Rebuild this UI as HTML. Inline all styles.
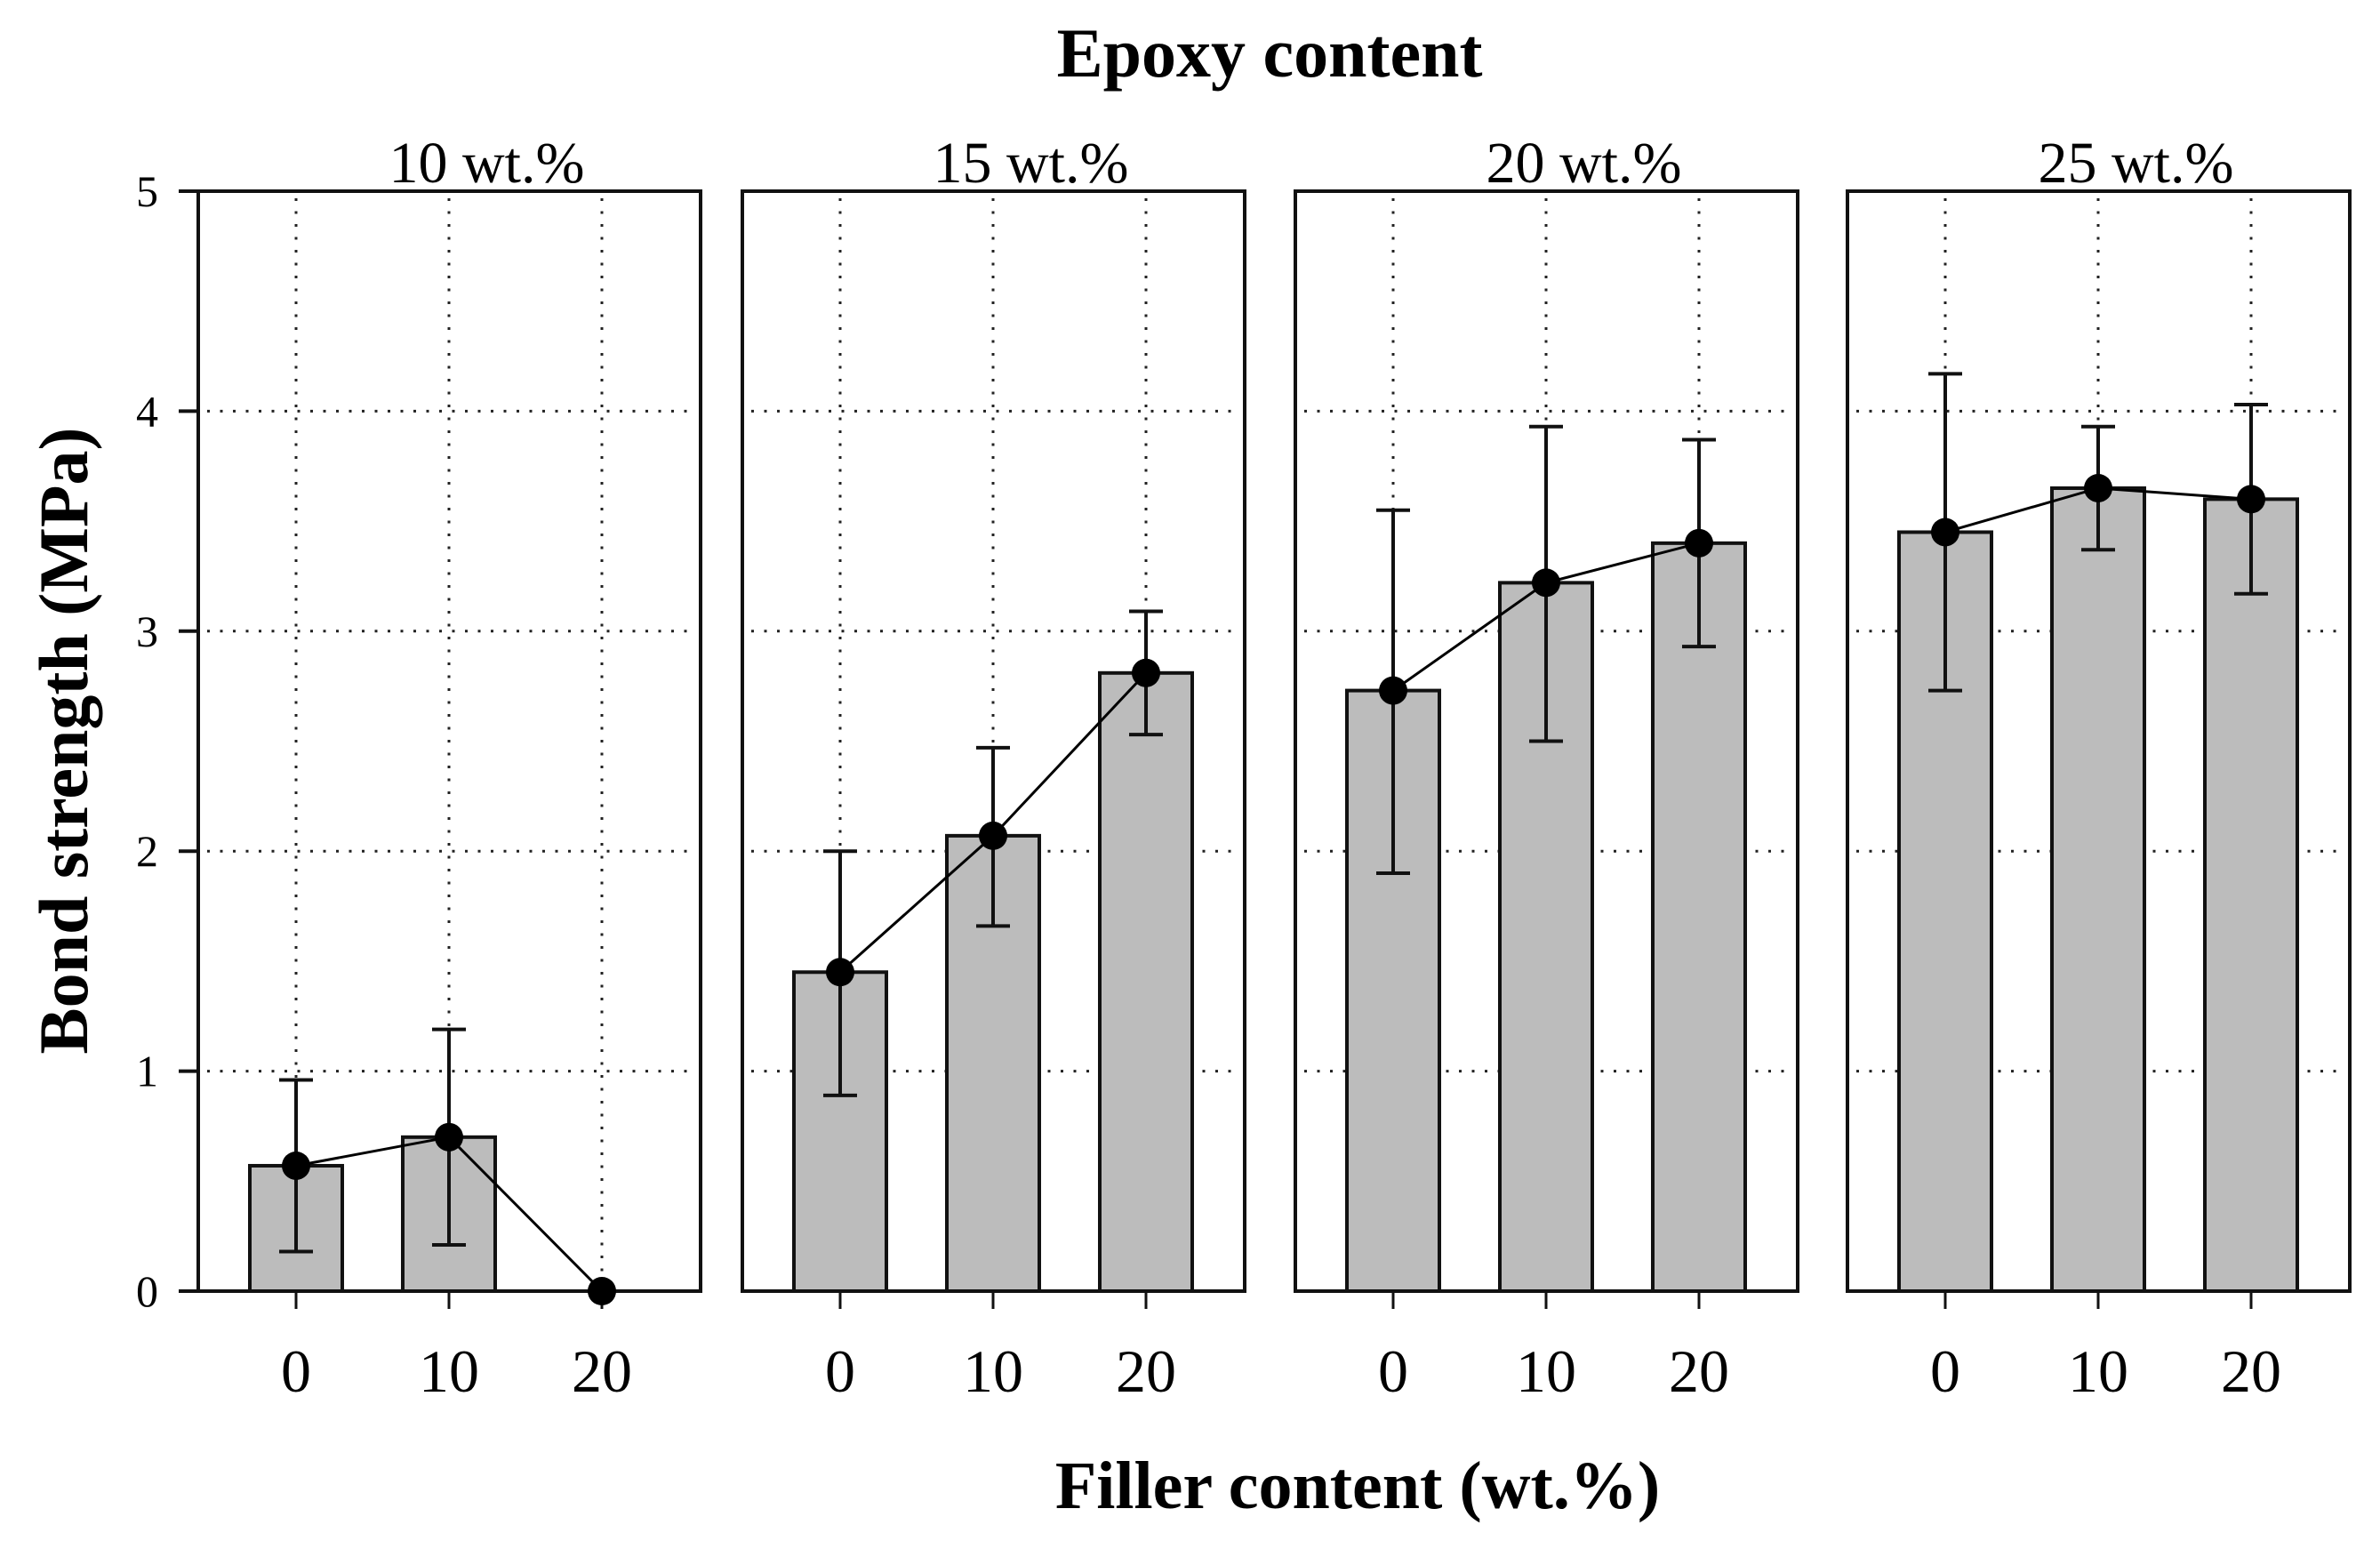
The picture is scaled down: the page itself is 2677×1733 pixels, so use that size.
<!DOCTYPE html>
<html><head><meta charset="utf-8">
<style>
html,body{margin:0;padding:0;background:#fff;}
svg{display:block;font-family:"Liberation Serif",serif;}
</style></head>
<body>
<svg id="chart" width="2677" height="1733" viewBox="0 0 2677 1733" xmlns="http://www.w3.org/2000/svg">
<rect x="0" y="0" width="2677" height="1733" fill="#fff"/>
<text x="1428" y="86" font-size="78" font-weight="bold" text-anchor="middle">Epoxy content</text>
<text x="1527" y="1696" font-size="76" font-weight="bold" text-anchor="middle">Filler content (wt.%)</text>
<text transform="translate(98,833) rotate(-90)" font-size="78" font-weight="bold" text-anchor="middle">Bond strength (MPa)</text>
<g id="plots"></g>
</svg>
<script>
const panelTitles = ["10 wt.%", "15 wt.%", "20 wt.%", "25 wt.%"];
const categories = ["0", "10", "20"];
const yTicks = [0, 1, 2, 3, 4, 5];
const means10 = [0.57, 0.70, 0.0];
const lower10 = [0.18, 0.21, 0.0];
const upper10 = [0.96, 1.19, 0.0];
const means15 = [1.45, 2.07, 2.81];
const lower15 = [0.89, 1.66, 2.53];
const upper15 = [2.00, 2.47, 3.09];
const means20 = [2.73, 3.22, 3.40];
const lower20 = [1.90, 2.50, 2.93];
const upper20 = [3.55, 3.93, 3.87];
const means25 = [3.45, 3.65, 3.60];
const lower25 = [2.73, 3.37, 3.17];
const upper25 = [4.17, 3.93, 4.03];

const meansAll = [means10, means15, means20, means25];
const lowerAll = [lower10, lower15, lower20, lower25];
const upperAll = [upper10, upper15, upper20, upper25];

const NS = "http://www.w3.org/2000/svg";
const root = document.getElementById("plots");
const panelLeft = [223, 835, 1457, 2078];
const panelW = 565;
const yTop = 215, yBottom = 1452, yMax = 5;
function yScale(v){ return yBottom - (v / yMax) * (yBottom - yTop); }
function xScale(p, i){ return panelLeft[p] + 110 + i * 172; }
function mk(tag, attrs, parent){
  const el = document.createElementNS(NS, tag);
  for (const k in attrs) el.setAttribute(k, attrs[k]);
  (parent || root).appendChild(el);
  return el;
}

for (let p = 0; p < 4; p++) {
  const g = mk("g", {});
  
  
  const L = panelLeft[p], R = L + panelW;
  for (let t = 1; t < yTicks.length - 1; t++) {
    const gl = mk("line", {x1: L + 10, x2: R - 8, y1: yScale(yTicks[t]), y2: yScale(yTicks[t]), stroke: "#222", "stroke-width": 3, "stroke-dasharray": "3 11.5"}, g);
    
    
  }
  for (let i = 0; i < categories.length; i++) {
    const gl = mk("line", {x1: xScale(p, i), x2: xScale(p, i), y1: yTop + 8, y2: yBottom, stroke: "#222", "stroke-width": 3, "stroke-dasharray": "3 11.5"}, g);
    
    
  }
  for (let i = 0; i < categories.length; i++) {
    const v = meansAll[p][i];
    if (v > 0) {
      const b = mk("rect", {x: xScale(p, i) - 52, y: yScale(v), width: 104, height: yBottom - yScale(v), fill: "#bcbcbc", stroke: "#111", "stroke-width": 4}, g);
      
      
    }
  }
  const fr = mk("rect", {x: L, y: yTop, width: panelW, height: yBottom - yTop, fill: "none", stroke: "#111", "stroke-width": 4}, g);
  
  
  for (let i = 0; i < categories.length; i++) {
    const tk = mk("line", {x1: xScale(p, i), x2: xScale(p, i), y1: yBottom, y2: yBottom + 20, stroke: "#111", "stroke-width": 3}, g);
    
    
    const tl = mk("text", {x: xScale(p, i), y: 1565, "font-size": 68, "text-anchor": "middle"}, g);
    tl.textContent = categories[i];
    
    
  }
  const tt = mk("text", {x: L + panelW / 2 + 42, y: 205, "font-size": 66, "text-anchor": "middle"}, g);
  tt.textContent = panelTitles[p];
  
  
  for (let i = 0; i < categories.length; i++) {
    const lo = lowerAll[p][i], hi = upperAll[p][i];
    if (hi > lo) {
      const x = xScale(p, i);
      const e = mk("path", {d: `M${x},${yScale(lo)}V${yScale(hi)}M${x-19},${yScale(lo)}H${x+19}M${x-19},${yScale(hi)}H${x+19}`, stroke: "#111", "stroke-width": 4, fill: "none"}, g);
      
      
    }
  }
  let d = "";
  for (let i = 0; i < categories.length; i++) d += (i ? "L" : "M") + xScale(p, i) + "," + yScale(meansAll[p][i]);
  const ln = mk("path", {d: d, stroke: "#000", "stroke-width": 3, fill: "none"}, g);
  
  
  for (let i = 0; i < categories.length; i++) {
    const c = mk("circle", {cx: xScale(p, i), cy: yScale(meansAll[p][i]), r: 16, fill: "#000"}, g);
    
    
  }
}
for (let t = 0; t < yTicks.length; t++) {
  const tk = mk("line", {x1: 201, x2: 223, y1: yScale(yTicks[t]), y2: yScale(yTicks[t]), stroke: "#111", "stroke-width": 4});
  
  
  const tl = mk("text", {x: 178, y: yScale(yTicks[t]) + 17, "font-size": 50, "text-anchor": "end"});
  tl.textContent = yTicks[t];
  
  
}
</script>
</body></html>
